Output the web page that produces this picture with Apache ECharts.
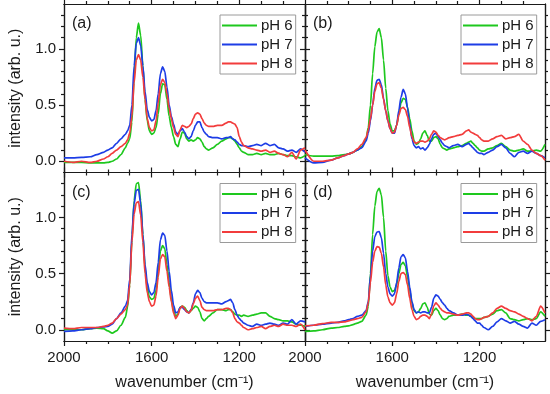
<!DOCTYPE html>
<html><head><meta charset="utf-8">
<script src="https://cdn.jsdelivr.net/npm/echarts@6/dist/echarts.min.js"></script>
<style>html,body{margin:0;padding:0;background:#fff}#c{width:550px;height:394px}</style>
</head><body><div id="c"></div><script>
// wavenumber grid (cm^-1)
const wavenumber = [2000,1960,1920,1880,1850,1820,1800,1780,1760,1740,1720,
 1710,1700,1690,1680,1670,1660,1650,1640,1630,1620,1610,
 1600,1590,1580,1570,1560,1550,1540,1530,1520,1510,1500,
 1490,1480,1470,1460,1450,1440,1430,1420,1410,1400,1390,
 1380,1370,1360,1350,1340,1320,1300,1280,1260,
 1250,1240,1230,1220,1210,1200,1190,1180,
 1160,1140,1120,1100,1080,1060,1040,1020,1000,980,960,940,920,900];

// panel (a)
const a_pH6 = [-0.01,-0.01,-0.01,-0.015,-0.015,-0.015,-0.01,0.0,0.02,0.06,0.12,
 0.16,0.2,0.35,0.75,1.1,1.23,1.12,0.85,0.55,0.36,0.27,
 0.24,0.25,0.3,0.42,0.6,0.69,0.68,0.55,0.4,0.3,0.22,
 0.15,0.13,0.2,0.26,0.25,0.2,0.18,0.19,0.18,0.19,0.21,
 0.2,0.17,0.13,0.11,0.1,0.12,0.15,0.18,0.2,
 0.21,0.21,0.2,0.18,0.15,0.12,0.09,0.08,
 0.06,0.06,0.07,0.06,0.07,0.06,0.06,0.07,0.06,0.05,0.05,0.04,0.03,0.05];
const a_pH7 = [0.03,0.03,0.035,0.04,0.06,0.08,0.1,0.12,0.16,0.2,0.24,
 0.27,0.32,0.5,0.85,1.05,1.1,1.03,0.85,0.62,0.46,0.39,
 0.36,0.37,0.45,0.6,0.78,0.84,0.8,0.66,0.5,0.4,0.33,
 0.26,0.24,0.27,0.29,0.26,0.22,0.2,0.22,0.27,0.32,0.35,
 0.35,0.3,0.26,0.24,0.22,0.21,0.21,0.2,0.21,
 0.21,0.22,0.2,0.19,0.17,0.15,0.14,0.14,
 0.13,0.14,0.15,0.14,0.16,0.14,0.15,0.12,0.11,0.09,0.1,0.08,0.11,0.08];
const a_pH8 = [0.0,-0.01,0.0,-0.01,0.0,0.02,0.04,0.07,0.1,0.13,0.16,
 0.19,0.25,0.4,0.7,0.9,0.95,0.9,0.75,0.55,0.38,0.3,
 0.27,0.28,0.36,0.52,0.68,0.73,0.7,0.6,0.47,0.38,0.3,
 0.24,0.22,0.28,0.32,0.31,0.3,0.31,0.33,0.38,0.42,0.43,
 0.42,0.38,0.34,0.32,0.31,0.31,0.32,0.32,0.34,
 0.35,0.35,0.34,0.33,0.3,0.22,0.17,0.14,
 0.12,0.11,0.1,0.09,0.1,0.08,0.09,0.07,0.06,0.04,0.08,0.02,0.1,0.12];

// panel (b)
const b_pH6 = [0.06,0.045,0.045,0.045,0.05,0.06,0.065,0.08,0.1,0.13,0.2,
 0.3,0.5,0.78,1.02,1.15,1.18,1.1,0.9,0.65,0.45,0.33,
 0.27,0.27,0.32,0.42,0.52,0.56,0.55,0.48,0.38,0.27,0.18,
 0.15,0.16,0.2,0.25,0.27,0.23,0.18,0.18,0.21,0.22,0.2,
 0.15,0.12,0.11,0.1,0.11,0.12,0.13,0.14,0.16,
 0.17,0.18,0.16,0.14,0.12,0.1,0.09,0.09,
 0.11,0.12,0.14,0.16,0.13,0.1,0.09,0.1,0.11,0.09,0.09,0.1,0.09,0.15];
const b_pH7 = [0.03,-0.015,-0.01,0.01,0.03,0.05,0.065,0.08,0.1,0.12,0.18,
 0.25,0.36,0.5,0.65,0.72,0.73,0.68,0.56,0.45,0.36,0.29,
 0.25,0.25,0.32,0.45,0.57,0.64,0.6,0.47,0.33,0.2,0.14,
 0.12,0.13,0.11,0.12,0.1,0.12,0.15,0.2,0.24,0.25,0.22,
 0.19,0.16,0.14,0.13,0.12,0.14,0.15,0.13,0.15,
 0.16,0.14,0.12,0.1,0.08,0.07,0.07,0.06,
 0.08,0.1,0.13,0.15,0.12,0.07,0.04,0.08,0.09,0.07,0.09,0.07,0.05,0.03];
const b_pH8 = [0.1,0.0,0.0,0.01,0.03,0.05,0.065,0.08,0.11,0.15,0.21,
 0.28,0.38,0.5,0.62,0.69,0.7,0.65,0.55,0.45,0.36,0.29,
 0.25,0.26,0.32,0.41,0.47,0.48,0.46,0.4,0.3,0.22,0.17,
 0.16,0.17,0.18,0.18,0.17,0.18,0.2,0.24,0.27,0.26,0.23,
 0.21,0.2,0.19,0.2,0.21,0.22,0.23,0.24,0.27,
 0.28,0.26,0.25,0.24,0.23,0.21,0.19,0.18,
 0.18,0.2,0.22,0.23,0.2,0.21,0.22,0.24,0.18,0.15,0.1,0.07,0.05,0.01];

// panel (c)
const c_pH6 = [0.0,0.0,0.0,0.01,0.015,0.01,-0.01,-0.03,-0.01,0.04,0.11,
 0.2,0.4,0.8,1.15,1.3,1.31,1.15,0.85,0.55,0.37,0.29,
 0.27,0.28,0.35,0.52,0.7,0.75,0.72,0.58,0.42,0.27,0.17,
 0.12,0.14,0.2,0.21,0.2,0.17,0.15,0.17,0.19,0.21,0.2,
 0.16,0.1,0.08,0.1,0.12,0.15,0.18,0.18,0.17,
 0.18,0.18,0.16,0.14,0.13,0.13,0.12,0.13,
 0.12,0.13,0.14,0.15,0.15,0.12,0.1,0.09,0.08,0.08,0.07,0.05,0.04,0.03];
const c_pH7 = [-0.015,-0.01,0.0,0.01,0.02,0.025,0.03,0.05,0.1,0.15,0.21,
 0.26,0.45,0.85,1.12,1.24,1.25,1.12,0.85,0.58,0.42,0.34,
 0.31,0.33,0.42,0.6,0.8,0.86,0.84,0.7,0.52,0.35,0.22,
 0.15,0.16,0.2,0.2,0.18,0.16,0.15,0.18,0.24,0.32,0.35,
 0.33,0.28,0.25,0.24,0.24,0.24,0.24,0.23,0.25,
 0.26,0.27,0.24,0.18,0.13,0.1,0.08,0.06,
 0.04,0.03,0.05,0.04,0.05,0.06,0.05,0.04,0.06,0.05,0.09,0.05,0.08,0.07];
const c_pH8 = [0.015,0.01,0.02,0.02,0.02,0.03,0.04,0.06,0.1,0.14,0.18,
 0.22,0.4,0.78,1.03,1.13,1.14,1.02,0.78,0.5,0.33,0.25,
 0.21,0.22,0.3,0.47,0.63,0.67,0.65,0.52,0.38,0.25,0.15,
 0.1,0.13,0.19,0.21,0.19,0.16,0.15,0.17,0.23,0.28,0.3,
 0.26,0.2,0.18,0.17,0.17,0.17,0.18,0.18,0.19,
 0.19,0.18,0.15,0.1,0.07,0.06,0.04,0.02,
 0.0,0.01,0.02,0.03,0.01,0.03,0.04,0.03,0.05,0.04,0.04,0.03,0.05,0.0];

// panel (d)
const d_pH6 = [-0.015,-0.01,0.0,0.015,0.02,0.03,0.035,0.045,0.06,0.075,0.13,
 0.21,0.5,0.85,1.1,1.23,1.26,1.2,1.0,0.7,0.48,0.38,
 0.34,0.35,0.4,0.5,0.58,0.6,0.57,0.47,0.35,0.24,0.17,
 0.15,0.16,0.19,0.23,0.24,0.2,0.14,0.13,0.17,0.19,0.17,
 0.13,0.1,0.09,0.1,0.12,0.13,0.13,0.14,0.13,
 0.13,0.12,0.11,0.1,0.1,0.1,0.1,0.11,
 0.12,0.14,0.17,0.18,0.15,0.1,0.09,0.08,0.09,0.1,0.09,0.1,0.16,0.12];
const d_pH7 = [0.03,0.04,0.05,0.06,0.065,0.08,0.09,0.1,0.12,0.13,0.17,
 0.25,0.48,0.7,0.83,0.87,0.875,0.82,0.68,0.5,0.38,0.32,
 0.3,0.32,0.42,0.55,0.65,0.67,0.64,0.52,0.38,0.25,0.18,
 0.15,0.16,0.15,0.16,0.16,0.15,0.15,0.2,0.28,0.31,0.3,
 0.27,0.24,0.22,0.19,0.17,0.15,0.13,0.13,0.14,
 0.13,0.12,0.1,0.08,0.06,0.06,0.04,0.02,
 0.0,0.03,0.07,0.1,0.08,0.06,0.075,0.05,0.03,0.015,0.06,0.04,0.075,0.09];
const d_pH8 = [0.035,0.04,0.055,0.065,0.065,0.07,0.08,0.09,0.1,0.11,0.16,
 0.24,0.42,0.6,0.7,0.74,0.735,0.68,0.56,0.4,0.29,0.24,
 0.22,0.24,0.32,0.43,0.5,0.51,0.49,0.4,0.28,0.18,0.12,
 0.09,0.1,0.12,0.13,0.13,0.12,0.1,0.14,0.21,0.24,0.22,
 0.19,0.17,0.16,0.15,0.15,0.14,0.13,0.14,0.15,
 0.15,0.14,0.12,0.1,0.09,0.09,0.1,0.11,
 0.12,0.15,0.19,0.21,0.19,0.17,0.16,0.14,0.12,0.1,0.08,0.12,0.21,0.15];

const seriesNames = ['pH 6','pH 7','pH 8'];
const panelLabels = ['(a)','(b)','(c)','(d)'];
const xMajorTicks = [2000,1600,1200];
const xMinorTicks = [1900,1800,1700,1500,1400,1300,1100,1000];
const yMajorTicks = [0,0.5,1.0];
const yMinorTicks = [0.1,0.2,0.3,0.4,0.6,0.7,0.8,0.9,1.1,1.2,1.3];
const panelData = [[a_pH6,a_pH7,a_pH8],[b_pH6,b_pH7,b_pH8],[c_pH6,c_pH7,c_pH8],[d_pH6,d_pH7,d_pH8]];

const FONT = "'Liberation Sans', Arial, sans-serif";
const INK = '#1a1a1a';
const colors = ['#1ec81e','#1d3de6','#f23c3c'];
const grids = [
  {left:64, top:4, width:241, height:168.5},
  {left:305, top:4, width:240, height:168.5},
  {left:64, top:172.5, width:241, height:168.5},
  {left:305, top:172.5, width:240, height:168.5}
];

const xAxes = [], yAxes = [];
grids.forEach((g,i)=>{
  const bottomRow = i >= 2, leftCol = i % 2 === 0;
  [['bottom',true],['bottom',false],['top',true],['top',false]].forEach(([pos,major])=>{
    const showLabel = pos === 'bottom' && major && bottomRow;
    xAxes.push({
      gridIndex:i, type:'value', min:900, max:2000, inverse:true, position:pos, offset:0,
      axisLine:{show:true, onZero:false, lineStyle:{color:INK, width:1.2}},
      axisTick:{show:true, inside:false, customValues: major ? xMajorTicks : xMinorTicks, length: major ? 5 : 3, lineStyle:{color:INK, width:1.2}},
      axisLabel:{show:showLabel, customValues:xMajorTicks, fontSize:15, color:INK, fontFamily:FONT, margin:9,
        formatter: v => String(Math.round(v))},
      splitLine:{show:false},
      name: showLabel ? 'wavenumber (cm\u207B\u00B9)' : '',
      nameLocation:'middle', nameGap:34,
      nameTextStyle:{fontSize:16, color:INK, fontFamily:FONT}
    });
  });
  [['left',true],['left',false],['right',true],['right',false]].forEach(([pos,major])=>{
    const showLabel = pos === 'left' && major && leftCol;
    yAxes.push({
      gridIndex:i, type:'value', min:-0.1, max:1.4, position:pos, offset:0,
      axisLine:{show:true, onZero:false, lineStyle:{color:INK, width:1.2}},
      axisTick:{show:true, inside:false, customValues: major ? yMajorTicks : yMinorTicks, length: major ? 5 : 3, lineStyle:{color:INK, width:1.2}},
      axisLabel:{show:showLabel, customValues:yMajorTicks, fontSize:15, color:INK, fontFamily:FONT, margin:8,
        formatter: v => Number(v).toFixed(1)},
      splitLine:{show:false},
      name: showLabel ? 'intensity (arb. u.)' : '',
      nameLocation:'middle', nameGap:40, nameRotate:90,
      nameTextStyle:{fontSize:16, color:INK, fontFamily:FONT}
    });
  });
});

const series = [];
panelData.forEach((arrs,i)=>arrs.forEach((vals,k)=>{
  series.push({
    type:'line', name:seriesNames[k], xAxisIndex:4*i, yAxisIndex:4*i,
    data: wavenumber.map((w,j)=>[w, vals[j]]),
    symbol:'none', showSymbol:false, smooth:0.25, smoothMonotone:'x',
    lineStyle:{width:1.7, color:colors[k]}, itemStyle:{color:colors[k]},
    animation:false, z: 2 + k
  });
}));

const legendPos = [{left:220,top:15},{left:461,top:15},{left:220,top:183.5},{left:461,top:183.5}];
const legends = legendPos.map(p=>({
  left:p.left, top:p.top, orient:'vertical', data:seriesNames,
  icon:'rect', itemWidth:35, itemHeight:2, itemGap:4, padding:[3,3,3,2],
  borderColor:'#9a9a9a', borderWidth:1, backgroundColor:'#fff',
  selectedMode:false,
  textStyle:{fontSize:15, lineHeight:15, color:INK, fontFamily:FONT, padding:[0,0,0,-1]}
}));

const chart = echarts.init(document.getElementById('c'), null, {renderer:'canvas'});
chart.setOption({
  animation:false,
  backgroundColor:'#fff',
  grid: grids,
  xAxis: xAxes,
  yAxis: yAxes,
  legend: legends,
  series: series,
  graphic: panelLabels.map((t,i)=>({
    type:'text', left: grids[i].left + 8, top: grids[i].top + 12, z:100,
    style:{text:t, fontSize:16, fontFamily:FONT, fill:INK}
  }))
});
</script></body></html>
